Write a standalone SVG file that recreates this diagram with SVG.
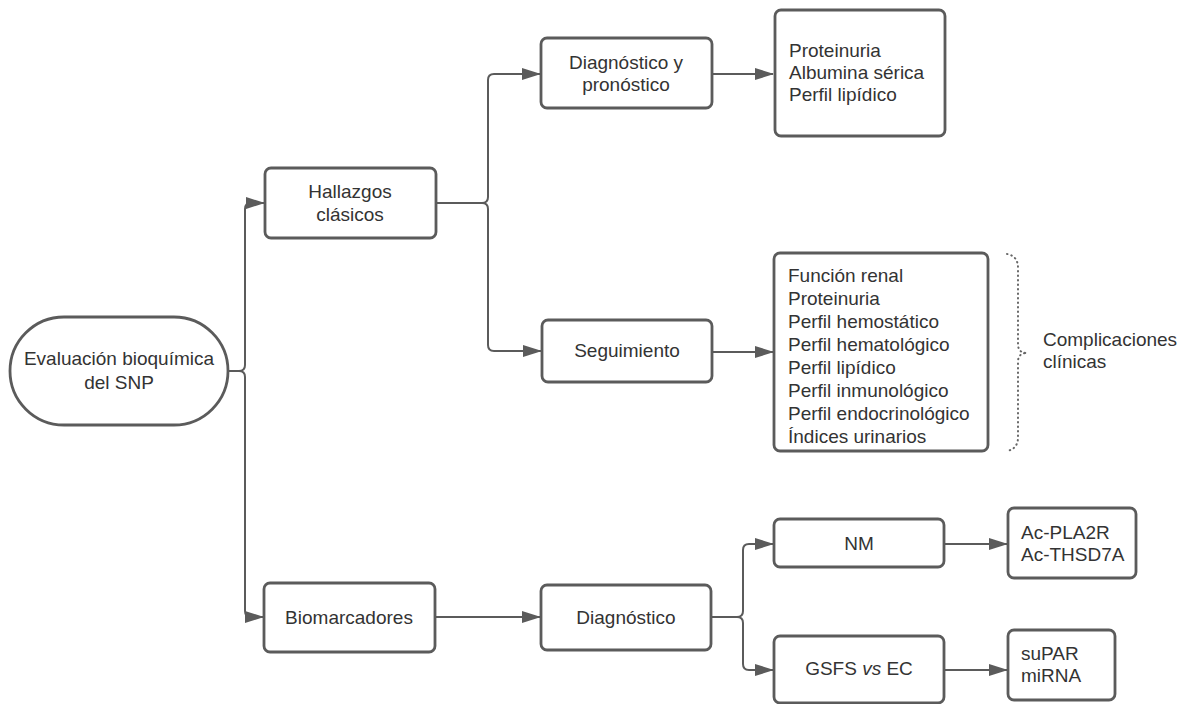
<svg xmlns="http://www.w3.org/2000/svg" width="1189" height="704" viewBox="0 0 1189 704">
<style>
.box{fill:#fff;stroke:#5b5b5b;stroke-width:2.8}
.c{fill:none;stroke:#5b5b5b;stroke-width:2}
text{font-family:"Liberation Sans",Arial,sans-serif;font-size:19px;fill:#333}
.m{text-anchor:middle}
</style>
<defs>
<marker id="ah" markerWidth="19" markerHeight="12" refX="18" refY="6" orient="auto" markerUnits="userSpaceOnUse">
<path d="M0,0 L19,6 L0,12 Z" fill="#5b5b5b"/>
</marker>
</defs>
<rect width="1189" height="704" fill="#fff"/>
<g id="connectors">
<path class="c" d="M228,371 H239 Q245,371 245,365 V209 Q245,203 251,203 H264" marker-end="url(#ah)"/>
<path class="c" d="M239,371 Q245,371 245,377 V611 Q245,617 251,617 H263" marker-end="url(#ah)"/>
<path class="c" d="M436,203 H482 Q488,203 488,197 V80 Q488,74 494,74 H540" marker-end="url(#ah)"/>
<path class="c" d="M482,203 Q488,203 488,209 V345 Q488,351 494,351 H541" marker-end="url(#ah)"/>
<path class="c" d="M712,74 H773" marker-end="url(#ah)"/>
<path class="c" d="M712,352 H773" marker-end="url(#ah)"/>
<path class="c" d="M435,617 H540" marker-end="url(#ah)"/>
<path class="c" d="M711,617 H737 Q743,617 743,611 V550 Q743,544 749,544 H773" marker-end="url(#ah)"/>
<path class="c" d="M737,617 Q743,617 743,623 V664 Q743,670 749,670 H773" marker-end="url(#ah)"/>
<path class="c" d="M944,544 H1007" marker-end="url(#ah)"/>
<path class="c" d="M944,670 H1007" marker-end="url(#ah)"/>
</g>
<g id="root">
<rect class="box" x="10" y="317" width="218" height="108" rx="54"/>
<text class="m" x="119" y="365">Evaluación bioquímica</text>
<text class="m" x="119" y="389">del SNP</text>
</g>
<g id="hallazgos">
<rect class="box" x="265" y="168" width="171" height="70" rx="6"/>
<text class="m" x="350" y="198">Hallazgos</text>
<text class="m" x="350" y="221">clásicos</text>
</g>
<g id="diagpron">
<rect class="box" x="541" y="38" width="171" height="70" rx="6"/>
<text class="m" x="626" y="69">Diagnóstico y</text>
<text class="m" x="626" y="91">pronóstico</text>
</g>
<g id="list1">
<rect class="box" x="775" y="10" width="170" height="126" rx="6"/>
<text x="789" y="57">Proteinuria</text>
<text x="789" y="79">Albumina sérica</text>
<text x="789" y="101">Perfil lipídico</text>
</g>
<g id="seguimiento">
<rect class="box" x="542" y="320" width="170" height="62" rx="6"/>
<text class="m" x="627" y="357">Seguimiento</text>
</g>
<g id="list2">
<rect class="box" x="774" y="253" width="214" height="198" rx="6"/>
<text x="788" y="282">Función renal</text>
<text x="788" y="305">Proteinuria</text>
<text x="788" y="328">Perfil hemostático</text>
<text x="788" y="351">Perfil hematológico</text>
<text x="788" y="374">Perfil lipídico</text>
<text x="788" y="397">Perfil inmunológico</text>
<text x="788" y="420">Perfil endocrinológico</text>
<text x="788" y="443">Índices urinarios</text>
</g>
<g id="complicaciones">
<path d="M1007,254 Q1018,256 1018,268 V344 Q1018,353 1027,353 Q1018,353 1018,362 V437 Q1018,449 1007,451" fill="none" stroke="#666" stroke-width="2" stroke-dasharray="0.5 4" stroke-linecap="round"/>
<text x="1043" y="346">Complicaciones</text>
<text x="1043" y="368">clínicas</text>
</g>
<g id="biomarcadores">
<rect class="box" x="264" y="583" width="171" height="69" rx="6"/>
<text class="m" x="349" y="624">Biomarcadores</text>
</g>
<g id="diagnostico">
<rect class="box" x="541" y="585" width="170" height="65" rx="6"/>
<text class="m" x="626" y="624">Diagnóstico</text>
</g>
<g id="nm">
<rect class="box" x="774" y="519" width="170" height="48" rx="6"/>
<text class="m" x="859" y="550">NM</text>
</g>
<g id="gsfs">
<rect class="box" x="774" y="636" width="170" height="67" rx="6"/>
<text class="m" x="859" y="675">GSFS <tspan font-style="italic">vs</tspan> EC</text>
</g>
<g id="acpla">
<rect class="box" x="1008" y="508" width="128" height="70" rx="6"/>
<text x="1021" y="539">Ac-PLA2R</text>
<text x="1021" y="561">Ac-THSD7A</text>
</g>
<g id="supar">
<rect class="box" x="1008" y="630" width="107" height="70" rx="6"/>
<text x="1021" y="660">suPAR</text>
<text x="1021" y="682">miRNA</text>
</g>
</svg>
